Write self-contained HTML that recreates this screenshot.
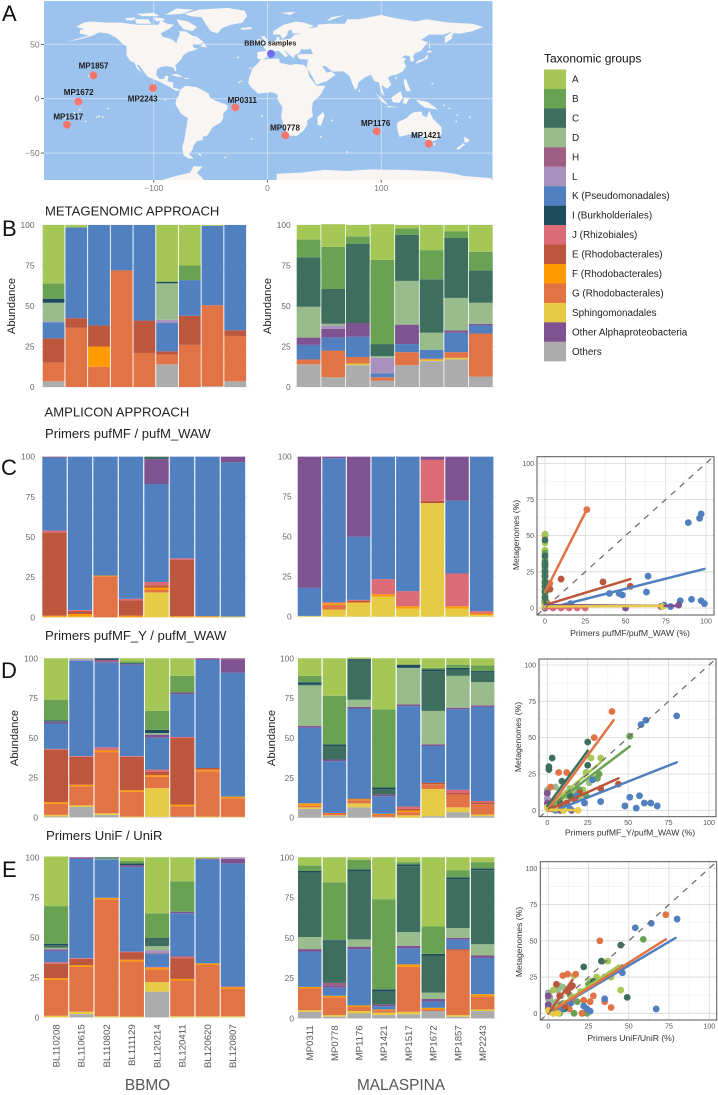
<!DOCTYPE html>
<html>
<head>
<meta charset="utf-8">
<title>Taxonomic composition figure</title>
<style>
html,body{margin:0;padding:0;background:#fff;}
svg{display:block;font-family:"Liberation Sans",sans-serif;}
</style>
</head>
<body>
<svg id="fig" xmlns="http://www.w3.org/2000/svg" width="718" height="1095" viewBox="0 0 718 1095">
  <rect width="718" height="1095" fill="#fff"/>
  <g id="mapLayer"></g>
  <g id="legendLayer"></g>
  <g id="barLayer"></g>
  <g id="scatterLayer"></g>
  <g fill="#111" font-size="22">
    <text x="2" y="21">A</text>
    <text x="2" y="236">B</text>
    <text x="1" y="475">C</text>
    <text x="1" y="678">D</text>
    <text x="2" y="877">E</text>
  </g>
  <g fill="#222" font-size="13.1">
    <text x="45" y="215.5">METAGENOMIC APPROACH</text>
    <text x="44.5" y="416.5">AMPLICON APPROACH</text>
    <text x="45" y="438">Primers pufMF / pufM_WAW</text>
    <text x="45" y="640">Primers pufMF_Y / pufM_WAW</text>
    <text x="46" y="840">Primers UniF / UniR</text>
  </g>
  <g fill="#222" font-size="11.1">
    <text transform="translate(15,306) rotate(-90)" text-anchor="middle">Abundance</text>
    <text transform="translate(271,306) rotate(-90)" text-anchor="middle">Abundance</text>
    <text transform="translate(18,738) rotate(-90)" text-anchor="middle">Abundance</text>
    <text transform="translate(275,738) rotate(-90)" text-anchor="middle">Abundance</text>
  </g>
  <g fill="#555" font-size="15.4">
    <text x="147.5" y="1090" text-anchor="middle">BBMO</text>
    <text x="401" y="1090" text-anchor="middle">MALASPINA</text>
  </g>
</svg>
<script>
/* ---------- taxa ---------- */
const legendLabels = ["A","B","C","D","H","L","K (Pseudomonadales)","I (Burkholderiales)","J (Rhizobiales)","E (Rhodobacterales)","F (Rhodobacterales)","G (Rhodobacterales)","Sphingomonadales","Other Alphaproteobacteria","Others"];
const legendKeys = ["A","B","C","D","H","L","K","I","J","E","F","G","S","P","O"];
const taxonColors = {A:"#a5c755",B:"#6aa253",C:"#3e6f5e",D:"#98bc8c",H:"#9f5f85",L:"#a892bd",K:"#5080bf",I:"#1f4b5e",J:"#dd6b75",E:"#bc573d",F:"#ff9a00",G:"#e17345",S:"#e7cb45",P:"#7f5292",O:"#acacac"};
/* stacking order, bottom to top: every row below follows these columns */
const stackOrder = ["O","S","G","F","E","J","K","P","H","L","D","C","I","B","A"];

/* ---------- categories ---------- */
const bbmoSamples = ["BL110208","BL110615","BL110802","BL111129","BL120214","BL120411","BL120620","BL120807"];
const malaspinaSamples = ["MP0311","MP0778","MP1176","MP1421","MP1517","MP1672","MP1857","MP2243"];
const abundanceTicks = [0,25,50,75,100];

/* ---------- stacked bar values (%) ---------- */
const metaBBMO = [
 [3.5,0,11.5,0,15,0,10,0,0,0.5,11.5,0,2.5,9.5,36],
 [0,0,36.5,0,6,0,56,0,0,0,0,0,0,0,1.5],
 [0,0,12.5,12.5,13,0,62],
 [0,0,72,0,0,0,28],
 [0,0,21,0,20,0,59],
 [14,0,6,0,2,0,17.5,0,0,2,22.5,0,1,0,35],
 [0,0,26,0,18,0,22,0,0,0,0,0,0,9,25],
 [0.5,0,50,0,0,0,49,0,0,0,0,0,0,0,0.5],
 [3.5,0,28,0,3.5,0,65]
];
const metaMalaspina = [
 [14,0,3,0,0,0,9,4.5,0,0,19,30.5,0,11,9],
 [6,0,16.5,0,0,0,8,5.5,0,2,1,21.5,0,26,14],
 [13.5,1,4,0,0,0,12.5,8.5,0,0,0,49,0,4.5,7],
 [4,0,2,0,0,0,2.5,0,0,9.5,1,7.5,0,52,22],
 [13.5,0,8,0,0,0,5,12,0,0,27,28.5,0,4,2],
 [16,1,0.5,0,0,0,5.5,0,0,0,10.5,33,0,18,15.5],
 [17,1,3.5,0,0,0,12,1.5,0,0,20,37,0,4,4],
 [6.5,0,26.5,0,0,0,5,1,0,0,13,20,0,11.5,16.5]
];
const pufmBBMO = [
 [0,0.3,0,0.7,52,1,45.5,0,0.5],
 [0,0.5,0,1.5,2,0.5,95.5],
 [0,0,25.5,0.5,0,0,74],
 [0,0,0,1,9.5,1,88.5],
 [0,15.5,1.5,1.5,1.5,2,61,15.5,0,0,0,1.5],
 [0,0,0,0.7,35,1,63.3],
 [0,0,0,0.7,0,0,99.3],
 [0,0.5,0,0,0,0,96,3.5]
];
const pufmMalaspina = [
 [0,0.5,0,0,0,0,17.5,82],
 [0,4.5,3,1,0,0.5,90,1],
 [0,8.5,0,0.5,1,0.5,39.5,50],
 [0,12.5,0,1.5,0,9.5,76.5],
 [0,5,0,1.5,0,9.5,84],
 [0,71,0,0,1.5,25.5,0,2],
 [0,5,0,1.5,0,20.5,45.5,27.5],
 [0,1,0,1,0,1.5,96.5]
];
const pufmYBBMO = [
 [0.5,1,7,1,33,0.5,16,1,0,0,0,0.5,0.5,13,26],
 [6.5,1,12,1,17.5,0.5,60,0,0,1,0,0,0,0,0.5],
 [1.5,1,38.5,1,0,2,53.5,0,1.5,0,0,0,1],
 [0,0.5,15.5,1,21,0.5,57.5,0.5,0,0,0,0,0.5,1,2],
 [0.3,18,7.2,1,2,1.5,20,2,0,0,1,0,2,12,33],
 [0.5,0,6.5,1,42,0.5,27,1,0,0,0,0,0,10.5,11],
 [0,0.5,28.5,1,1,0,68,1],
 [0,0.3,11.7,1,0,0,78,8.5,0.5]
];
const pufmYMalaspina = [
 [5.5,1,1,1.5,0,0,47.5,1,0,0,25.5,0.5,1.5,4,11],
 [1,0.5,1.5,0,0,0,32.5,1,0,0,0,8.5,1,30.5,23.5],
 [6.5,2.5,2,0.5,0.5,0,56.5,1,0,0,4.5,24.5,1,0,1],
 [0.3,0.2,1.5,0.5,0,0,11,1,0,0,0,3.5,1,49,32],
 [0,1.5,2,1,1,1.5,63,1,0,0,23,0,2,0,4],
 [1,17,3,0,1,0,23,1,0,0,21,25,1,1,6],
 [3.5,3,8,0,1,2,50.5,1,0,0,20,4,1,2,4],
 [1,1,6.5,0,1,1,59,1,0,0,14.5,6,1,3.5,4.5]
];
const uniBBMO = [
 [0,1,22.5,1,9,1,7,1,0,0,1,1.5,1,23.5,31],
 [2,1.5,28,1,4,0.5,62,1],
 [0,0.7,73,1,0,0,24,0,0,0,0.5,0.8],
 [0,0.5,34.5,1,4.5,0.5,53,1,0,0,0,0,1.2,1.5,2.3],
 [16,6,8,1,0,0.5,8,0.5,0,2,2.5,4,1,15.5,35],
 [0,0.7,22.3,1,13,1,27,1,0,0,0,0,0,19,15],
 [0,0.7,32,1,0,0,65,0.5,0,0,0,0,0,0,0.8],
 [0,0.7,17,1,0,0.5,77,2.8,0,1]
];
const uniMalaspina = [
 [4,1,13.5,1,0,0,22,1.5,0,0,7.5,40,1,3.5,5],
 [1,1,11,1,0,0,5,1.5,1.5,0,0,25.5,1,36,15.5],
 [3,1.5,2.5,1,0,0,35,1.5,0,0,4.5,42.5,1,6,1.5],
 [2,1.5,1.5,0.5,0,0,2,1,0,0,0,8,1.5,56,26],
 [2.5,1.5,28,1.5,0,0,10,1.5,0,0,8.5,41,1,1.5,3],
 [4.5,0,1,1,0,0,4,1.5,0,0,4,23,1,17,43],
 [1,1,40,0,1,0,6,1,0,0,6,30.5,1,4.5,8],
 [4.5,1,8,1.5,0,0,22.5,1.5,0,0,7,46,1,4,3]
];

/* ---------- scatter values: [x %, y %] by taxon ---------- */
const scatterTicks = [0,25,50,75,100];
const cPoints = [
 ["J",[[0,0],[5,0],[10,0],[15,0],[20,0],[25,0]]],
 ["L",[[0,3],[0,1]]],
 ["G",[[0,50],[0,26],[3,13],[3,17],[0,12],[1,4]]],
 ["D",[[0,28],[0,24],[0,20],[0,14],[0,8]]],
 ["A",[[0,51],[0,45],[0,40],[0,35],[0,30],[0,25],[0,22],[0,20],[0,17],[0,15],[0,12],[0,10],[0,8],[0,5],[0,3]]],
 ["E",[[10,20],[36,18],[53,15],[0,5],[3,13]]],
 ["K",[[16,3],[40,10],[46,10],[48,9],[63,11],[64,22],[74,2],[78,1],[84,5],[89,59],[91,6],[96,62],[97,65],[97,5],[99,3],[0,1]]],
 ["B",[[0,38],[0,33],[0,30],[0,26],[0,22],[0,18],[0,12],[0,8],[0,4]]],
 ["C",[[0,47],[0,36],[0,31],[0,29],[0,25],[0,22],[0,18],[0,15],[0,11],[0,7]]],
 ["G",[[26,68]]],
 ["P",[[50,0],[83,2],[72,1],[0,0]]],
 ["S",[[0,1],[73,1]]]
];
const cFits = [
 ["A",0,0,0,35],["B",0,0,0,30],["C",0,0,0,36],
 ["G",0,11,26,68],["E",0,2,53,20],["K",3,0,99,27],
 ["J",0,0,26,0.5],["P",0,2,83,1.5],["S",0,1,73,1.5]
];
const dPoints = [
 ["L",[[0,13],[0,11],[1,3],[0,8],[3,5],[1,1]]],
 ["P",[[0,5],[8,0],[15,0],[0,2]]],
 ["D",[[24,26],[26,19],[14,15],[5,16],[0,14],[10,10],[18,14],[20,12],[12,12],[9,9],[6,5],[15,8],[3,3]]],
 ["A",[[33,36],[27,36],[24,26],[22,14],[20,10],[8,8],[15,12],[12,10],[4,4],[30,22],[18,7],[1,1]]],
 ["B",[[51,51],[32,25],[31,22],[12,5],[8,9],[20,14],[4,2],[24,10]]],
 ["G",[[40,68],[29,50],[12,26],[7,26],[2,16],[17,8],[3,1]]],
 ["E",[[44,18],[33,15],[17,8],[20,12],[8,3],[5,1],[12,5]]],
 ["C",[[25,47],[25,31],[3,36],[1,30],[1,28],[9,20],[5,7],[8,5],[2,3],[14,10]]],
 ["K",[[80,65],[61,62],[58,59],[48,3],[51,9],[55,1.5],[57,10],[60,5],[64,5],[68,3],[33,6],[23,5],[28,21],[18,10],[10,0],[14,1],[5,0]]],
 ["P",[[0,12]]],
 ["S",[[19,0],[10,0],[5,1],[0,2]]]
];
const dFits = [
 ["K",5,0,80,33],["E",0,0,44,22],["B",0,1,51,44],["A",0,2,33,33],
 ["C",0,3,25,41],["G",0,0,41,62],["S",0,0.5,20,0]
];
const ePoints = [
 ["L",[[0,14],[0,10],[1,11],[2,7],[0,5]]],
 ["D",[[7,19],[11,16],[0,13],[5,8],[3,5],[8,12],[1,9],[6,16],[9,18]]],
 ["A",[[37,36],[45,16],[16,26],[26,22],[3,16],[39,25],[5,4],[10,7],[14,12],[20,15],[30,25],[8,3]]],
 ["B",[[59,51],[16,0],[21,0],[24,0],[7,0],[18,8],[3,2],[12,6],[25,20],[35,25]]],
 ["G",[[73,68],[32,50],[12,27],[17,27],[9,26],[28,12],[26,8],[35,8],[39,4],[22,9],[13,3],[21,0],[4,2],[8,5],[15,10]]],
 ["C",[[45,47],[33,36],[22,32],[49,11],[5,2],[10,3],[28,22]]],
 ["K",[[80,65],[64,62],[54,59],[67,3],[35,10],[22,5],[24,3],[26,1.5],[46,28],[3,0],[8,3],[14,7]]],
 ["E",[[5,20],[14,18],[10,5],[15,19],[2,1],[7,12],[12,15]]],
 ["P",[[0,12],[0,6],[0,3]]],
 ["S",[[0,2],[3,0],[6,0]]]
];
const eFits = [
 ["K",0,0,79,52],["C",0,0,46,33],["B",0,0,46,33],["A",0,0,44,33],
 ["G",0,0,73,51],["E",0,0,15,23],["S",0,1,6,0]
];

/* ---------- map values (lon, lat) ---------- */
const stationNames = ["MP1857","MP1672","MP1517","MP2243","MP0311","MP0778","MP1176","MP1421"];
const stationLon = [-153,-166.4,-176.4,-100.7,-28.3,15.7,96,141.8];
const stationLat = [21.5,-2.7,-24,9.8,-8,-33.7,-30,-41.4];
const mapLatTicks = [50,0,-50];
const mapLonTicks = [-100,0,100];
const landmasses = [
 [[-168,66],[-162,70],[-156,71],[-141,70],[-128,70],[-115,68],[-108,68],[-96,68],[-94,72],[-88,69],[-82,68],[-87,64],[-94,60],[-92,57],[-85,55],[-82,53],[-80,51],[-79,55],[-77,60],[-78,62],[-72,62],[-66,58],[-62,57],[-56,52],[-60,50],[-66,50],[-65,47],[-61,46],[-66,44],[-70,43],[-74,40],[-76,36],[-81,31],[-80,26],[-81,25],[-83,29],[-89,30],[-94,29],[-97,27],[-98,22],[-95,18],[-91,18],[-90,21],[-87,21],[-88,16],[-83,15],[-83,10],[-78,9],[-77,8],[-80,7],[-85,10],[-92,14],[-96,16],[-105,20],[-109,25],[-113,31],[-115,31],[-110,23],[-115,28],[-117,33],[-121,35],[-124,40],[-124,48],[-128,51],[-133,56],[-140,60],[-148,61],[-154,58],[-164,55],[-177,52],[-163,56.5],[-157,58],[-165,60],[-165,63],[-161,64]],
 [[-73,78],[-60,82],[-35,83.5],[-20,81],[-18,76],[-22,70],[-32,68],[-40,65],[-44,60],[-50,62],[-54,68],[-58,75],[-68,76]],
 [[-80,73],[-70,71],[-62,66],[-66,62],[-74,64],[-78,69]],
 [[-117,73],[-105,73],[-102,69],[-115,69]],
 [[-90,77],[-80,83],[-65,82],[-75,78]],
 [[-125,74],[-116,75],[-118,72],[-124,72]],
 [[-100,75],[-92,74],[-90,72],[-98,71]],
 [[-115,78],[-100,79],[-95,76],[-110,76]],
 [[-59,48],[-53,47],[-56,51.5]],
 [[-85,22],[-80,23],[-74,20],[-78,20]],
 [[-74,19.5],[-68,18.5],[-72,18]],
 [[-77,8],[-72,12],[-62,10.5],[-52,5],[-50,0],[-44,-2.5],[-35,-6],[-35,-9],[-39,-14],[-39,-18],[-41,-22],[-48,-26],[-53,-34],[-57,-35],[-57,-38],[-62,-39],[-65,-43],[-66,-47],[-69,-51],[-65,-55],[-69,-55],[-74,-52],[-75,-45],[-73,-37],[-70,-18],[-76,-14],[-81,-5],[-80,0],[-78,3]],
 [[-6,36],[10,37],[11,33],[20,31],[25,32],[32,31],[35,28],[37,20],[43,12],[51,12],[47,4],[40,-3],[39,-10],[40,-16],[35,-20],[35,-24],[32,-29],[26,-34],[18,-34],[15,-27],[12,-17],[13,-8],[9,-1],[9,4],[4,6],[-5,5],[-8,4.5],[-13,9],[-17,14],[-16,20],[-13,28],[-9,32]],
 [[49,-12],[50,-16],[47,-25],[44,-24],[44,-17]],
 [[-9,37],[-9,43],[-1,44],[-4,48],[2,51],[8,54],[8,57],[11,56],[10,54],[20,55],[24,59],[30,60],[22,60],[21,64],[24,66],[18,62],[17,58],[13,55],[11,59],[5,59],[5,62],[14,68],[25,71],[32,70],[41,67],[35,64.5],[44,66],[44,68],[54,69],[68,69],[70,73],[80,73],[100,77],[113,74],[130,71],[140,73],[160,70],[180,69],[190,66],[180,62],[170,60],[163,60],[162,55],[156,51],[156,57],[163,62],[155,59],[142,59],[135,54],[141,52],[135,44],[130,42],[128,39],[129,35],[126,34],[125,39],[121,40],[118,38],[122,37],[120,34],[122,30],[119,25],[113,22],[108,21],[106,19],[109,13],[105,9],[100,13],[103,2],[100,6],[98,15],[94,16],[91,22],[86,20],[80,15],[79,10],[77,8],[73,18],[72,21],[67,25],[57,25],[51,30],[48,30],[52,24],[56,25],[60,22],[52,16],[43,13],[39,21],[35,28],[34.5,31],[36,36],[28,36.5],[26,40],[29,41],[40,41],[38,46],[33,45],[30,46],[28,42],[24,40],[23,37],[20,40],[14,45],[18,40],[16,38],[10,44],[3,43],[0,39],[-2,37],[-5,36]],
 [[-5,50],[1,51],[0,54],[-3,58],[-6,57],[-3,54]],
 [[-10,52],[-6,52],[-6,55],[-9,54.5]],
 [[-24,65],[-14,66],[-14,64],[-22,63.5]],
 [[12,79],[25,80],[20,77]],
 [[52,71],[68,77],[56,75]],
 [[130,32],[135,34],[141,37],[141,41],[138,37],[132,35]],
 [[140,42],[145,43],[142,45]],
 [[142,54],[143,47],[142,46]],
 [[120,18],[122,18],[124,12],[126,7],[122,7],[120,14]],
 [[95,5.5],[104,-3],[106,-6],[101,-3]],
 [[105,-6.5],[115,-8],[106,-8]],
 [[109,1],[117,7],[119,1],[116,-4],[110,-3]],
 [[120,1],[125,1],[122,-5],[119,-4]],
 [[131,-1],[141,-3],[150,-10],[143,-9],[138,-8],[133,-4]],
 [[114,-22],[122,-18],[126,-14],[130,-12],[136,-12],[136,-15],[140,-17],[142,-11],[146,-19],[153,-26],[153,-32],[150,-37],[146,-39],[140,-38],[136,-35],[130,-32],[124,-33],[116,-35],[115,-32],[114,-26]],
 [[145,-41],[148,-41],[147,-43.5]],
 [[173,-35],[178,-38],[175,-41],[173,-39]],
 [[172,-41],[174,-42],[168,-47],[166,-46]],
 [[80,9],[82,7],[80,6]],
 [[-65,-62],[-57,-62.5],[-62,-68],[-55,-75.5],[-95,-75.5],[-80,-71],[-68,-68]],
 [[8,-75.5],[8,-69],[30,-68],[50,-65.5],[70,-66.5],[90,-65],[120,-65.5],[150,-67],[165,-69],[172,-71],[197,-73],[197,-75.5]]
];
const islandLon = [-157,-155.5,-150,-148,-145,-140,-172,-170,-165,-160,-178,-26,-25,-15,-5,-60,-59,-37,70,57,167,178,166,160,155,-90,-14,-23,47,145,113];
const islandLat = [21,19.5,-17,-16,-17,-9,-14,-13,-10,-21,-18,38,15,28,-16,-51,-52,-54,-49,-20,-15,-17,-21,-9,-6,-1,-37,16,-35,14,19];

/* ---------- helpers ---------- */
const NS = "http://www.w3.org/2000/svg";
function mk(tag, attrs, parent) {
  const el = document.createElementNS(NS, tag);
  for (const k in attrs) el.setAttribute(k, attrs[k]);
  parent.appendChild(el);
  return el;
}

/* ---------- map ---------- */
(function drawMap() {
  const layer = document.getElementById("mapLayer");
  const lonX = lon => 267.5 + lon * 1.137;
  const latY = lat => 98.7 - lat * 1.087;
  const defs = mk("defs", {}, layer);
  const cp = mk("clipPath", {id:"mapClip"}, defs);
  mk("rect", {x:44, y:1, width:448.5, height:179}, cp);
  const ocean = mk("rect", {x:44, y:1, width:448.5, height:179, fill:"#9cc3ee"}, layer);
  
  
  mapLatTicks.forEach(t => {
    const g = mk("line", {x1:44, x2:492.5, y1:latY(t), y2:latY(t), stroke:"#cfe0f4", "stroke-width":0.9}, layer);
    
    
    const tick = mk("line", {x1:41, x2:44, y1:latY(t), y2:latY(t), stroke:"#333", "stroke-width":0.8}, layer);
    
    
    const lab = mk("text", {x:39.5, y:latY(t) + 3, "text-anchor":"end", "font-size":8.4, fill:"#777"}, layer);
    
    
    lab.textContent = t < 0 ? "\u2212" + (-t) : String(t);
  });
  mapLonTicks.forEach(t => {
    const g = mk("line", {y1:1, y2:180, x1:lonX(t), x2:lonX(t), stroke:"#cfe0f4", "stroke-width":0.9}, layer);
    
    
    const tick = mk("line", {y1:180, y2:182.5, x1:lonX(t), x2:lonX(t), stroke:"#333", "stroke-width":0.8}, layer);
    
    
    const lab = mk("text", {x:lonX(t), y:191, "text-anchor":"middle", "font-size":8.4, fill:"#777"}, layer);
    
    
    lab.textContent = t < 0 ? "\u2212" + (-t) : String(t);
  });
  const land = mk("g", {"clip-path":"url(#mapClip)", fill:"#f8f5f2"}, layer);
  
  
  landmasses.forEach(poly => {
    const d = poly.map(p => lonX(p[0]).toFixed(1) + "," + latY(p[1]).toFixed(1)).join(" ");
    const shape = mk("polygon", {points:d}, land);
    
    
  });
  islandLon.forEach((lon, i) => {
    const dot = mk("circle", {cx:lonX(lon), cy:latY(islandLat[i]), r:0.9}, land);
    
    
  });
  const labelDX = [0,0.4,1.3,-10.3,7,-0.3,-1,-2.7];
  const labelDY = [-6.6,-6.4,-5.4,13.7,-4.6,-5,-5.3,-5.7];
  stationNames.forEach((name, i) => {
    const x = lonX(stationLon[i]), y = latY(stationLat[i]);
    const c = mk("circle", {cx:x, cy:y, r:3.9, fill:"#f8766d"}, layer);
    
    
    const t = mk("text", {x:x + labelDX[i], y:y + labelDY[i], "text-anchor":"middle", "font-size":8, "font-weight":"bold", fill:"#1a1a1a"}, layer);
    
    
    t.textContent = name;
  });
  const b = mk("circle", {cx:lonX(3), cy:latY(41.4), r:3.9, fill:"#6f6cf2"}, layer);
  
  
  const bt = mk("text", {x:270.3, y:45.5, "text-anchor":"middle", "font-size":7.1, "font-weight":"bold", fill:"#1a1a1a"}, layer);
  
  
  bt.textContent = "BBMO samples";
})();

/* ---------- legend ---------- */
(function drawLegend() {
  const layer = document.getElementById("legendLayer");
  const title = mk("text", {x:544, y:62.5, "font-size":12, fill:"#111"}, layer);
  
  
  title.textContent = "Taxonomic groups";
  const top = 69.5, rowH = 19.45;
  legendLabels.forEach((label, i) => {
    const key = mk("rect", {x:544, y:top + i * rowH, width:22, height:rowH + 0.1, fill:taxonColors[legendKeys[i]]}, layer);
    
    
    const t = mk("text", {x:572, y:top + i * rowH + rowH / 2 + 3.3, "font-size":9.9, fill:"#222"}, layer);
    
    
    t.textContent = label;
  });
})();

/* ---------- stacked bars ---------- */
function drawBars(rows, x0, step, barW, yTop, yBot, tickRight, samples) {
  const layer = document.getElementById("barLayer");
  const group = mk("g", {}, layer);
  
  
  const yScale = v => yBot - (v / 100) * (yBot - yTop);
  const xEnd = x0 + step * (rows.length - 1) + barW;
  for (let g = 0; g <= 100; g += 12.5) {
    const line = mk("line", {x1:x0 - 3, x2:xEnd + 3, y1:yScale(g), y2:yScale(g), stroke:"#eeeeee", "stroke-width":g % 25 ? 0.5 : 0.9}, group);
    
    
  }
  abundanceTicks.forEach(t => {
    const lab = mk("text", {x:tickRight, y:yScale(t) + 3, "text-anchor":"end", "font-size":8.4, fill:"#666"}, group);
    
    
    lab.textContent = String(t);
  });
  rows.forEach((row, i) => {
    let cum = 0;
    const x = x0 + i * step;
    stackOrder.forEach((taxon, j) => {
      const v = row[j] || 0;
      if (v <= 0) return;
      const seg = mk("rect", {x:x, y:yScale(cum + v), width:barW, height:yScale(cum) - yScale(cum + v), fill:taxonColors[taxon]}, group);
      
      
      cum += v;
    });
    if (samples) {
      const lab = mk("text", {transform:"translate(" + (x + barW / 2 + 3.3) + "," + (yBot + 7) + ") rotate(-90)", "text-anchor":"end", "font-size":9.6, fill:"#555"}, group);
      
      
      lab.textContent = samples[i];
    }
  });
}
drawBars(metaBBMO, 42.7, 22.7, 21.8, 225, 387, 34.5, null);
drawBars(metaMalaspina, 296.7, 24.6, 23.8, 225, 387, 290.7, null);
drawBars(pufmBBMO, 42.3, 25.5, 24.4, 456.7, 617.3, 35, null);
drawBars(pufmMalaspina, 297.7, 24.6, 23.5, 456.7, 616.7, 291.7, null);
drawBars(pufmYBBMO, 44, 25.25, 24.2, 658.3, 817.3, 38, null);
drawBars(pufmYMalaspina, 298, 24.7, 23.5, 658.3, 817.7, 294, null);
drawBars(uniBBMO, 44, 25.25, 24.2, 857.3, 1017.3, 39.3, bbmoSamples);
drawBars(uniMalaspina, 298, 24.7, 23.5, 857.3, 1018.3, 294, malaspinaSamples);

/* ---------- scatter ---------- */
function drawScatter(id, points, fits, xTitle, box, xAt, yAt, titleX, titleY, yTitleX, yTitleY) {
  const layer = document.getElementById("scatterLayer");
  const group = mk("g", {}, layer);
  
  
  const sx = v => xAt[0] + v * (xAt[1] - xAt[0]) / 100;
  const sy = v => yAt[0] + v * (yAt[1] - yAt[0]) / 100;
  const clip = mk("clipPath", {id:id}, group);
  mk("rect", {x:box[0], y:box[1], width:box[2] - box[0], height:box[3] - box[1]}, clip);
  const pad = mk("g", {"clip-path":"url(#" + id + ")"}, group);
  for (let g = 0; g <= 100; g += 12.5) {
    const major = g % 25 === 0;
    const v = mk("line", {x1:sx(g), x2:sx(g), y1:box[1], y2:box[3], stroke:major ? "#d8d8d8" : "#ececec", "stroke-width":major ? 0.8 : 0.5}, pad);
    
    
    const h = mk("line", {x1:box[0], x2:box[2], y1:sy(g), y2:sy(g), stroke:major ? "#d8d8d8" : "#ececec", "stroke-width":major ? 0.8 : 0.5}, pad);
    
    
  }
  points.forEach(series => {
    series[1].forEach(p => {
      const c = mk("circle", {cx:sx(p[0]), cy:sy(p[1]), r:3.4, fill:taxonColors[series[0]]}, pad);
      
      
    });
  });
  fits.forEach(f => {
    const l = mk("line", {x1:sx(f[1]), y1:sy(f[2]), x2:sx(f[3]), y2:sy(f[4]), stroke:taxonColors[f[0]], "stroke-width":2.5, "stroke-linecap":"round"}, pad);
    
    
  });
  const diag = mk("line", {x1:sx(-5), y1:sy(-5), x2:sx(105), y2:sy(105), stroke:"#666", "stroke-width":1.2, "stroke-dasharray":"6 6"}, pad);
  
  
  const border = mk("rect", {x:box[0], y:box[1], width:box[2] - box[0], height:box[3] - box[1], fill:"none", stroke:"#555", "stroke-width":1}, group);
  
  
  scatterTicks.forEach(t => {
    const xl = mk("text", {x:sx(t), y:box[3] + 8.5, "text-anchor":"middle", "font-size":7, fill:"#555"}, group);
    
    
    xl.textContent = String(t);
    const yl = mk("text", {x:box[0] - 3, y:sy(t) + 2.5, "text-anchor":"end", "font-size":7, fill:"#555"}, group);
    
    
    yl.textContent = String(t);
  });
  const xt = mk("text", {x:titleX, y:titleY, "text-anchor":"middle", "font-size":8.6, fill:"#333"}, group);
  
  
  xt.textContent = xTitle;
  const yt = mk("text", {transform:"translate(" + yTitleX + "," + yTitleY + ") rotate(-90)", "text-anchor":"middle", "font-size":8.6, fill:"#333"}, group);
  
  
  yt.textContent = "Metagenomes (%)";
}
drawScatter("clipC", cPoints, cFits, "Primers pufMF/pufM_WAW (%)", [537,456.7,714,615], [545,706], [608,463.3], 630, 636, 519, 535);
drawScatter("clipD", dPoints, dFits, "Primers pufMF_Y/pufM_WAW (%)", [539,659,716,816.7], [547.3,709], [810.3,665], 630, 835.5, 521, 737);
drawScatter("clipE", ePoints, eFits, "Primers UniF/UniR (%)", [540.3,861.7,716.7,1020], [548.3,709.3], [1013.3,868.3], 631, 1041, 522, 942);
</script>
</body>
</html>
